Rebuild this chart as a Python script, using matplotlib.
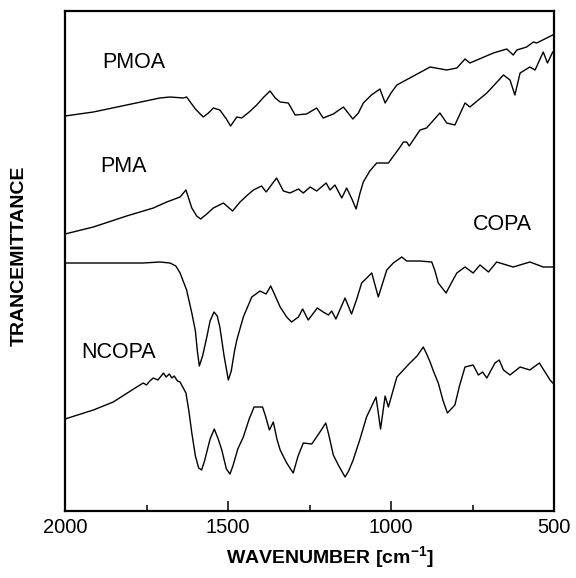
import matplotlib
matplotlib.use("Agg")
import matplotlib.pyplot as plt
from matplotlib.ticker import FixedLocator

plt.rcParams['font.family'] = ['Liberation Sans', 'DejaVu Sans']
plt.rcParams['mathtext.fontset'] = 'custom'
plt.rcParams['mathtext.rm'] = 'Liberation Sans'
plt.rcParams['mathtext.bf'] = 'Liberation Sans:bold'

# ---- data (wavenumber, relative transmittance) ----
pmoa_w = [2000, 1913, 1811, 1709, 1678, 1637, 1627, 1600, 1576, 1560, 1545, 1525, 1505, 1492,
          1473, 1458, 1435, 1412, 1390, 1371, 1355, 1340, 1315, 1294, 1259, 1228, 1208, 1177,
          1146, 1117, 1100, 1085, 1060, 1034, 1018, 1000, 982, 931, 880, 829, 798, 773, 758,
          686, 645, 625, 614, 584, 563, 553, 504]
pmoa_t = [395, 399, 406, 413, 414, 413, 414, 402, 394, 398, 403, 401, 392, 385,
          394, 393, 399, 406, 414, 420, 413, 409, 408, 396, 397, 403, 393, 397,
          404, 392, 398, 408, 416, 422, 408, 418, 426, 435, 444, 441, 443, 452, 448,
          458, 462, 456, 461, 464, 469, 468, 476]

pma_w = [2000, 1913, 1811, 1729, 1688, 1647, 1629, 1611, 1596, 1584, 1565, 1545, 1514,
         1486, 1463, 1440, 1422, 1397, 1383, 1351, 1330, 1310, 1284, 1269, 1248, 1228,
         1199, 1187, 1172, 1151, 1136, 1120, 1107, 1095, 1085, 1065, 1044, 1008, 972, 962,
         952, 944, 911, 891, 850, 829, 804, 773, 758, 706, 655, 635, 620, 604, 574, 558,
         533, 520, 504]
pma_t = [277, 284, 295, 303, 309, 314, 321, 303, 295, 292, 297, 303, 308,
         300, 309, 316, 321, 325, 319, 333, 320, 318, 322, 318, 324, 320,
         328, 321, 326, 313, 323, 312, 302, 318, 329, 340, 348, 348, 364, 369,
         369, 365, 381, 383, 398, 388, 386, 408, 404, 418, 436, 431, 416, 438, 444, 441,
         459, 448, 459]

copa_w = [2000, 1760, 1709, 1678, 1660, 1647, 1627, 1611, 1600, 1594, 1588, 1578, 1565,
          1555, 1543, 1533, 1525, 1512, 1499, 1490, 1480, 1473, 1453, 1427, 1402, 1383,
          1369, 1355, 1340, 1320, 1305, 1284, 1271, 1254, 1226, 1208, 1192, 1182, 1169,
          1141, 1121, 1105, 1090, 1059, 1039, 1013, 993, 967, 952, 911, 875, 865, 855,
          831, 815, 798, 773, 748, 727, 701, 676, 625, 574, 533, 504]
copa_t = [248, 248, 249, 248, 245, 238, 221, 198, 180, 160, 145, 155, 174,
          190, 199, 195, 184, 155, 131, 140, 160, 171, 194, 214, 220, 217,
          225, 215, 204, 194, 189, 194, 202, 191, 203, 199, 196, 200, 192,
          213, 197, 212, 228, 238, 214, 241, 248, 254, 250, 250, 249, 240, 228,
          218, 228, 238, 244, 238, 246, 239, 249, 244, 249, 244, 244]

ncopa_w = [2000, 1913, 1852, 1780, 1760, 1750, 1740, 1729, 1715, 1705, 1698, 1690, 1680,
           1672, 1665, 1655, 1647, 1629, 1620, 1611, 1600, 1590, 1581, 1572, 1555, 1542,
           1530, 1519, 1505, 1494, 1485, 1470, 1453, 1435, 1420, 1394, 1385, 1373, 1361,
           1350, 1340, 1320, 1300, 1285, 1269, 1243, 1220, 1200, 1190, 1177, 1160, 1141,
           1130, 1116, 1095, 1075, 1046, 1032, 1018, 1008, 982, 942, 920, 901, 892, 880,
           870, 855, 840, 827, 804, 790, 773, 748, 732, 719, 706, 681, 668, 655, 635, 604,
           574, 545, 512, 504]
ncopa_t = [92, 101, 109, 124, 128, 126, 130, 133, 131, 135, 138, 134, 137,
           133, 135, 130, 129, 118, 100, 78, 55, 43, 41, 50, 72, 82,
           72, 61, 42, 37, 45, 62, 74, 92, 104, 104, 95, 81, 89,
           72, 61, 48, 38, 55, 68, 67, 78, 88, 75, 56, 45, 34,
           40, 51, 72, 94, 114, 82, 115, 104, 134, 148, 155, 164, 158, 149,
           140, 128, 110, 98, 106, 125, 144, 146, 136, 139, 133, 148, 151, 141, 136, 144,
           141, 148, 131, 128]

labels = ["PMOA", "PMA", "COPA", "NCOPA"]
label_pos_w = [1887, 1893, 748, 1949]
label_pos_t = [448, 344, 286, 159]

xticks_major = [2000, 1500, 1000, 500]
xticks_minor = [1750, 1250, 750]

# ---- figure ----
fig = plt.figure(figsize=(5.76, 5.78), dpi=100)
ax = fig.add_axes([65 / 576, 1 - 511 / 578, 489 / 576, 500 / 578])

for w, t in [(pmoa_w, pmoa_t), (pma_w, pma_t), (copa_w, copa_t), (ncopa_w, ncopa_t)]:
    ax.plot(w, t, color='black', lw=1.0, solid_joinstyle='round')

for lab, lw_, lt in zip(labels, label_pos_w, label_pos_t):
    ax.text(lw_, lt, lab, fontsize=15.5, ha='left', va='center', color='black')

ax.set_xlim(2000, 500)
ax.set_ylim(0, 500)
ax.xaxis.set_major_locator(FixedLocator(xticks_major))
ax.xaxis.set_minor_locator(FixedLocator(xticks_minor))
ax.set_xticklabels([str(v) for v in xticks_major])
ax.set_yticks([])
ax.tick_params(axis='x', which='major', direction='in', length=7, width=1.1,
               labelsize=14.5, pad=5)
ax.tick_params(axis='x', which='minor', direction='in', length=4, width=1.1)
for s in ax.spines.values():
    s.set_linewidth(1.6)

fig.text(330 / 576, 1 - 558 / 578, r'WAVENUMBER [cm$^{\mathbf{-1}}$]', fontsize=14,
         fontweight='bold', ha='center', va='center')
fig.text(19 / 576, 1 - 256 / 578, 'TRANCEMITTANCE', fontsize=14, fontweight='bold',
         rotation=90, ha='center', va='center')

fig.savefig('out.png', dpi=100)
